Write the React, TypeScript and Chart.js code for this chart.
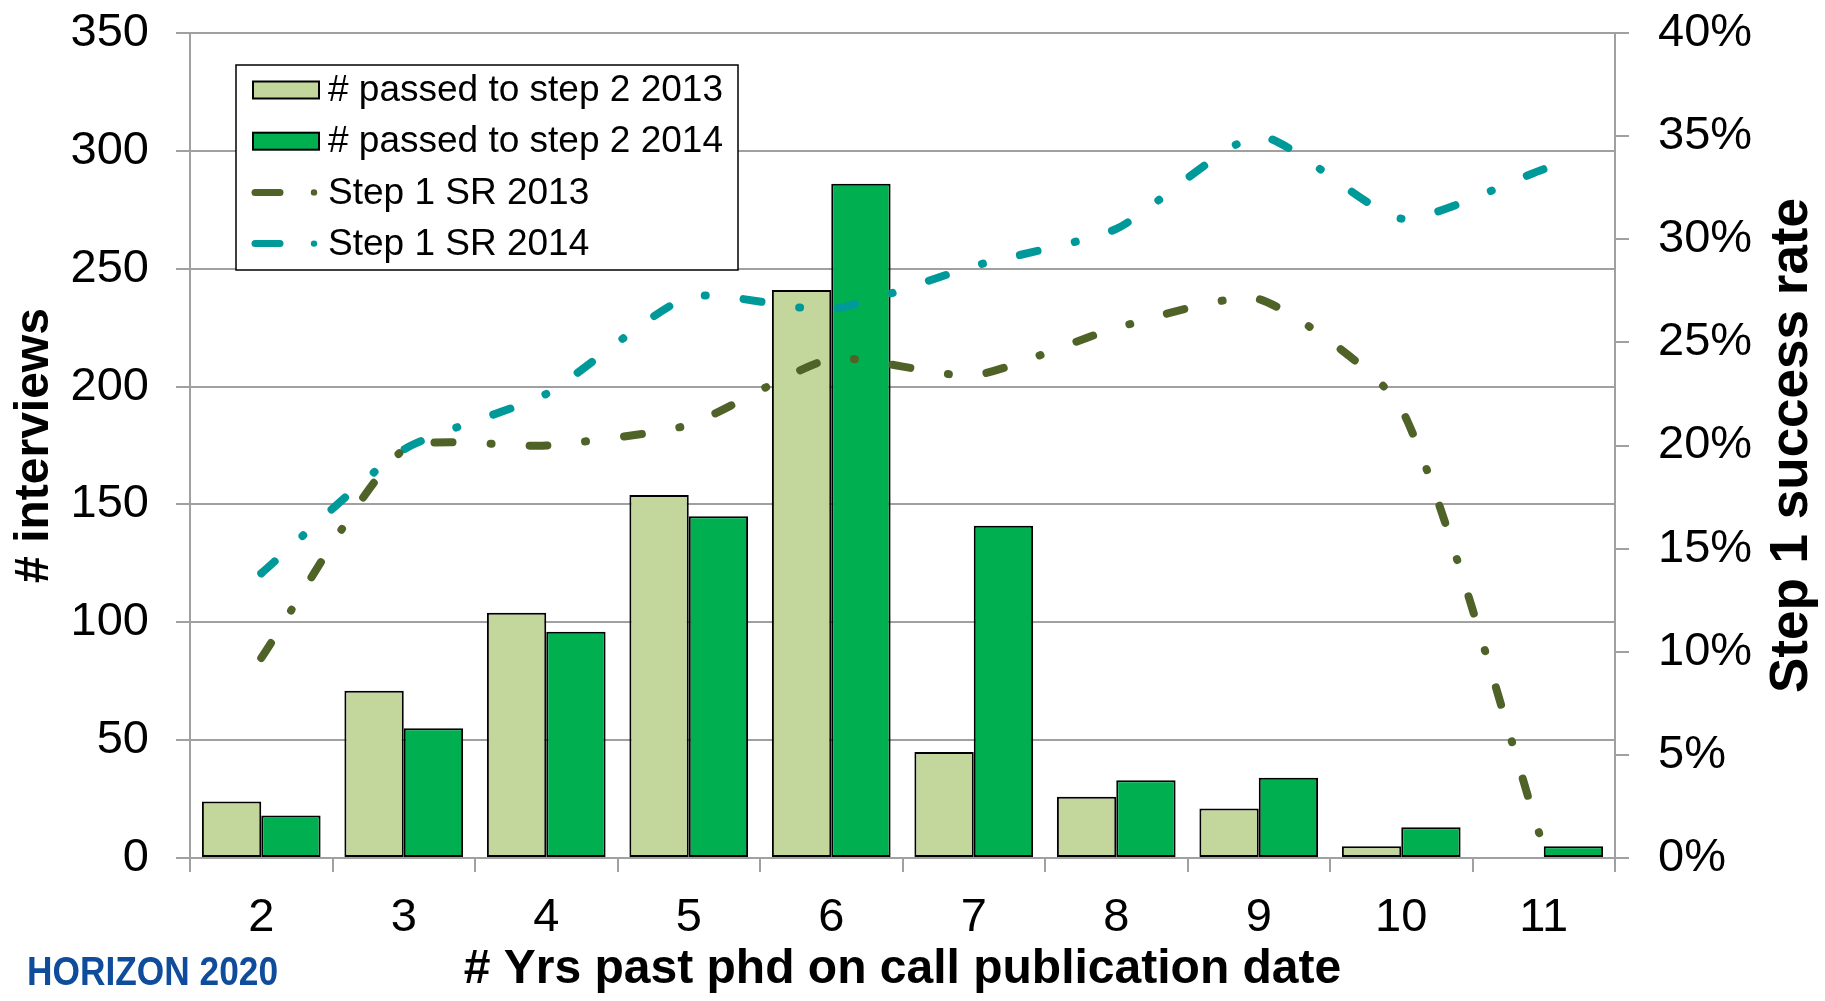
import React, { useEffect, useRef } from "react";
import { Chart, registerables } from "chart.js";

Chart.register(...registerables);

const categories = ["2", "3", "4", "5", "6", "7", "8", "9", "10", "11"];
const passed2013 = [24, 71, 104, 154, 241, 45, 26, 21, 5, 0];
const passed2014 = [18, 55, 96, 145, 286, 141, 33, 34, 13, 5];
const sr2013 = [9.7, 19.8, 20.0, 21.0, 24.2, 23.4, 25.7, 27.1, 21.8, 0.5];
const sr2014 = [13.8, 19.8, 22.5, 27.2, 26.6, 28.7, 30.5, 35.0, 31.0, 33.4];
const leftTicks = { min: 0, max: 350, step: 50 };
const rightTicks = { min: 0, max: 40, step: 5 };

const W = 1825;
const H = 1001;
const FONT = "'Liberation Sans', Arial, sans-serif";
const LIGHT = "#C3D69B";
const DARK = "#00B050";
const OLIVE = "#4F6228";
const TEAL = "#009999";
const GRID = "#A0A0A0";
const DASH = [18, 38, 1, 38];

const extrasPlugin = {
  id: "extras",
  afterDraw(chart: any) {
    const ctx = chart.ctx;
    const area = chart.chartArea;
    ctx.save();
    ctx.translate(1792, (area.top + area.bottom) / 2);
    ctx.rotate(-Math.PI / 2);
    ctx.font = `bold 53px ${FONT}`;
    ctx.fillStyle = "#000";
    ctx.textAlign = "center";
    ctx.textBaseline = "middle";
    ctx.fillText("Step 1 success rate", 0, 0);
    ctx.restore();

    ctx.save();
    ctx.font = `bold 41px ${FONT}`;
    ctx.fillStyle = "#0F4C9C";
    ctx.textAlign = "left";
    ctx.textBaseline = "middle";
    ctx.fillText("HORIZON 2020", 27, 974, 251);
    ctx.restore();

    const lx = 236, ly = 65, lw = 502, lh = 205;
    ctx.save();
    ctx.fillStyle = "#fff";
    ctx.fillRect(lx, ly, lw, lh);
    ctx.strokeStyle = "#000";
    ctx.lineWidth = 1.5;
    ctx.strokeRect(lx, ly, lw, lh);
    const rows = [
      { type: "bar", color: LIGHT, text: "# passed to step 2 2013" },
      { type: "bar", color: DARK, text: "# passed to step 2 2014" },
      { type: "line", color: OLIVE, text: "Step 1 SR 2013" },
      { type: "line", color: TEAL, text: "Step 1 SR 2014" },
    ];
    ctx.font = `37px ${FONT}`;
    ctx.textAlign = "left";
    ctx.textBaseline = "middle";
    rows.forEach((r, i) => {
      const cy = 90 + i * 51.2;
      if (r.type === "bar") {
        ctx.fillStyle = r.color;
        ctx.fillRect(253, cy - 8.5, 66, 17);
        ctx.strokeStyle = "#000";
        ctx.lineWidth = 2;
        ctx.strokeRect(253, cy - 8.5, 66, 17);
      } else {
        ctx.strokeStyle = r.color;
        ctx.lineWidth = 7;
        ctx.lineCap = "round";
        ctx.setLineDash([]);
        ctx.beginPath();
        ctx.moveTo(255, cy);
        ctx.lineTo(280, cy);
        ctx.stroke();
        ctx.fillStyle = r.color;
        ctx.beginPath();
        ctx.arc(314, cy, 3.2, 0, Math.PI * 2);
        ctx.fill();
      }
      ctx.fillStyle = "#000";
      ctx.fillText(r.text, 328, cy + 1);
    });
    ctx.restore();
  },
};

function lineDataset(label: string, data: number[], color: string) {
  return {
    type: "line",
    label,
    data,
    yAxisID: "y1",
    borderColor: color,
    backgroundColor: color,
    borderWidth: 8,
    borderDash: DASH,
    borderCapStyle: "round",
    borderJoinStyle: "round",
    pointRadius: 0,
    tension: 0.2,
    fill: false,
    order: 0,
  } as any;
}

function barDataset(label: string, data: number[], color: string) {
  return {
    type: "bar",
    label,
    data,
    yAxisID: "y",
    backgroundColor: color,
    borderColor: "#000",
    borderWidth: 2,
    borderSkipped: false,
    categoryPercentage: 0.833,
    barPercentage: 1,
    order: 1,
  } as any;
}

export default function App() {
  const ref = useRef<HTMLCanvasElement>(null);

  useEffect(() => {
    document.body.style.margin = "0";
    const canvas = ref.current;
    if (!canvas) return;
    const chart = new Chart(canvas, {
      type: "bar",
      data: {
        labels: categories,
        datasets: [
          lineDataset("Step 1 SR 2013", sr2013, OLIVE),
          lineDataset("Step 1 SR 2014", sr2014, TEAL),
          barDataset("# passed to step 2 2013", passed2013, LIGHT),
          barDataset("# passed to step 2 2014", passed2014, DARK),
        ],
      },
      options: {
        responsive: false,
        animation: false,
        devicePixelRatio: 1,
        layout: { padding: { top: 33, left: 0, right: 0, bottom: 0 } },
        plugins: {
          legend: { display: false },
          tooltip: { enabled: false },
        },
        scales: {
          x: {
            type: "category",
            offset: true,
            grid: {
              offset: true,
              drawOnChartArea: false,
              drawTicks: true,
              tickLength: 14,
              color: GRID,
              lineWidth: 2,
            },
            border: { display: true, color: GRID, width: 2 },
            ticks: {
              color: "#000",
              font: { family: FONT, size: 47 },
              padding: 18,
              maxRotation: 0,
              autoSkip: false,
            },
            title: {
              display: true,
              text: "# Yrs past phd on call publication date",
              color: "#000",
              font: { family: FONT, size: 48, weight: "bold" },
              padding: { top: 0, bottom: 2 },
            },
            afterFit: (s: any) => {
              s.height = H - 858;
              s.paddingLeft = 0;
              s.paddingRight = 0;
            },
          },
          y: {
            type: "linear",
            position: "left",
            min: leftTicks.min,
            max: leftTicks.max,
            grid: {
              color: GRID,
              lineWidth: 2,
              tickLength: 14,
            },
            border: { display: true, color: GRID, width: 2 },
            ticks: {
              stepSize: leftTicks.step,
              color: "#000",
              font: { family: FONT, size: 47 },
              padding: 27,
            },
            title: {
              display: true,
              text: "# interviews",
              color: "#000",
              font: { family: FONT, size: 48, weight: "bold" },
              padding: { top: 6, bottom: 0 },
            },
            afterFit: (s: any) => {
              s.width = 190;
              s.paddingTop = 0;
              s.paddingBottom = 0;
            },
          },
          y1: {
            type: "linear",
            position: "right",
            min: rightTicks.min,
            max: rightTicks.max,
            grid: {
              drawOnChartArea: false,
              color: GRID,
              lineWidth: 2,
              tickLength: 14,
            },
            border: { display: true, color: GRID, width: 2 },
            ticks: {
              stepSize: rightTicks.step,
              color: "#000",
              font: { family: FONT, size: 47 },
              padding: 29,
              callback: (v: any) => `${v}%`,
            },
            afterFit: (s: any) => {
              s.width = W - 1615;
              s.paddingTop = 0;
              s.paddingBottom = 0;
            },
          },
        },
      },
      plugins: [extrasPlugin],
    });
    return () => chart.destroy();
  }, []);

  return (
    <div style={{ position: "absolute", left: 0, top: 0, width: W, height: H, background: "#fff" }}>
      <canvas ref={ref} width={W} height={H} style={{ width: W, height: H, display: "block" }} />
    </div>
  );
}
